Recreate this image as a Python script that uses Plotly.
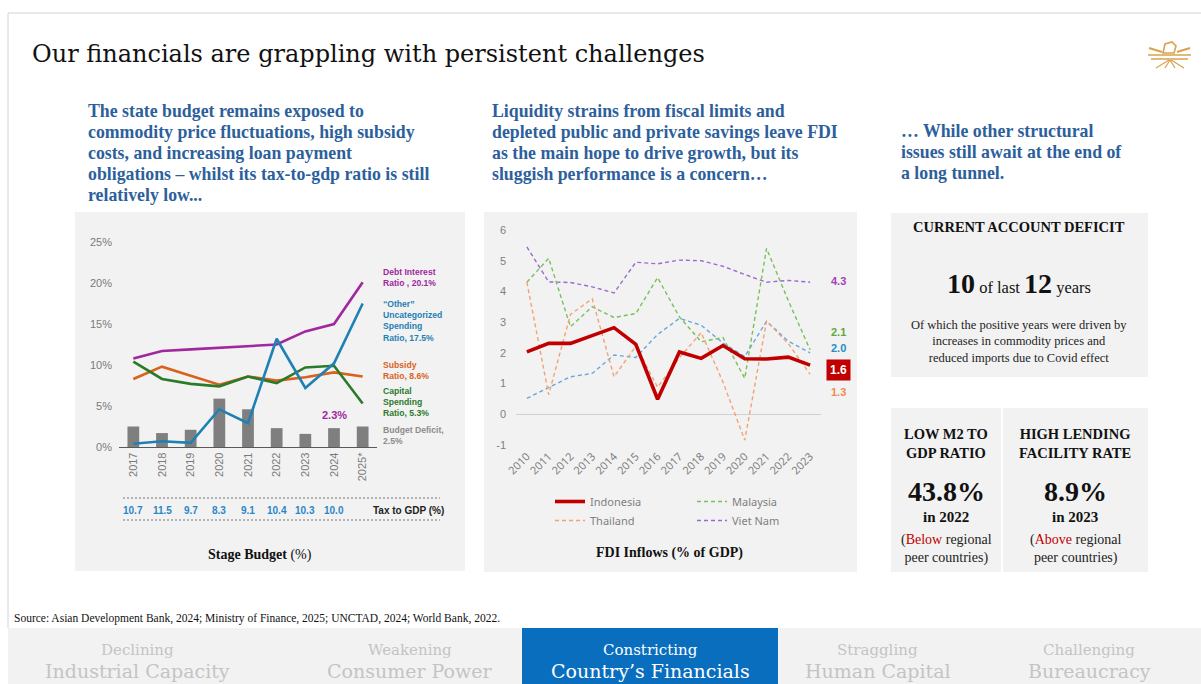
import plotly.graph_objects as go

W, H = 1201, 684

# ---------------- Data ----------------
budget_years = ["2017", "2018", "2019", "2020", "2021", "2022", "2023", "2024", "2025*"]
debt_interest = [10.8, 11.7, 11.9, 12.1, 12.3, 12.5, 14.1, 15.0, 20.1]
other_spending = [0.4, 0.7, 0.5, 4.6, 2.9, 13.2, 7.2, 10.2, 17.5]
subsidy = [8.3, 9.8, 8.7, 7.6, 8.6, 8.1, 8.5, 9.1, 8.6]
capital = [10.4, 8.3, 7.7, 7.4, 8.6, 7.8, 9.7, 9.9, 5.3]
budget_deficit = [2.5, 1.7, 2.1, 5.9, 4.6, 2.3, 1.6, 2.3, 2.5]
tax_years = ["2017", "2018", "2019", "2020", "2021", "2022", "2023", "2024"]
tax_to_gdp = ["10.7", "11.5", "9.7", "8.3", "9.1", "10.4", "10.3", "10.0"]

fdi_years = ["2010", "2011", "2012", "2013", "2014", "2015", "2016",
             "2017", "2018", "2019", "2020", "2021", "2022", "2023"]
indonesia = [2.03, 2.31, 2.31, 2.56, 2.82, 2.28, 0.49, 2.03, 1.82, 2.24, 1.81, 1.80, 1.86, 1.60]
malaysia = [4.30, 5.08, 2.85, 3.50, 3.15, 3.28, 4.45, 3.17, 2.36, 2.50, 1.17, 5.40, 3.70, 2.10]
thailand = [4.30, 0.64, 3.25, 3.76, 1.22, 2.22, 0.88, 1.84, 2.66, 1.05, -0.84, 3.03, 2.30, 1.30]
philippines = [0.52, 0.88, 1.22, 1.33, 1.93, 1.85, 2.60, 3.12, 2.90, 2.32, 1.88, 3.03, 2.38, 2.00]
vietnam = [5.45, 4.31, 4.29, 4.15, 3.95, 4.95, 4.90, 5.02, 5.00, 4.82, 4.55, 4.30, 4.36, 4.30]


def X(px):
    return px / W


def Y(py):
    return 1 - py / H


SERIF = "Liberation Serif"
SLAB = "DejaVu Serif"
SANS = "Liberation Sans"

fig = go.Figure()

# ---------------- Left chart: state budget ----------------
fig.add_trace(go.Bar(x=budget_years, y=budget_deficit, name="Budget Deficit",
                     marker=dict(color="#7f7f7f", line=dict(width=0)),
                     xaxis="x", yaxis="y", showlegend=False))
for name, vals, col in [("Subsidy Ratio", subsidy, "#d9621c"),
                        ("Capital Spending Ratio", capital, "#2a7a2a"),
                        ("Debt Interest Ratio", debt_interest, "#a0279e"),
                        ("Other Uncategorized Spending Ratio", other_spending, "#1f80b4")]:
    fig.add_trace(go.Scatter(x=budget_years, y=vals, name=name, mode="lines",
                             line=dict(color=col, width=2.6),
                             xaxis="x", yaxis="y", showlegend=False))

# ---------------- Middle chart: FDI inflows ----------------
DASH = "4px,3px"
fig.add_trace(go.Scatter(x=fdi_years, y=philippines, name="Philippines", mode="lines",
                         line=dict(color="#6aa6dc", width=1.4, dash=DASH),
                         xaxis="x2", yaxis="y2", showlegend=False))
fig.add_trace(go.Scatter(x=fdi_years, y=vietnam, name="Viet Nam", mode="lines",
                         line=dict(color="#9a6ad0", width=1.4, dash=DASH),
                         xaxis="x2", yaxis="y2", legend="legend2", legendrank=2))
fig.add_trace(go.Scatter(x=fdi_years, y=malaysia, name="Malaysia", mode="lines",
                         line=dict(color="#78c05a", width=1.4, dash=DASH),
                         xaxis="x2", yaxis="y2", legend="legend2", legendrank=1))
fig.add_trace(go.Scatter(x=fdi_years, y=thailand, name="Thailand", mode="lines",
                         line=dict(color="#f4a273", width=1.4, dash=DASH),
                         xaxis="x2", yaxis="y2", legend="legend", legendrank=2))
fig.add_trace(go.Scatter(x=fdi_years, y=indonesia, name="Indonesia", mode="lines",
                         line=dict(color="#c00000", width=3.6),
                         xaxis="x2", yaxis="y2", legend="legend", legendrank=1))

# ---------------- Shapes ----------------
shapes = []


def rect(x0, y0, x1, y1, color):
    shapes.append(dict(type="rect", xref="paper", yref="paper",
                       x0=X(x0), x1=X(x1), y0=Y(y1), y1=Y(y0),
                       fillcolor=color, line=dict(width=0), layer="below"))


def line(x0, y0, x1, y1, color, width=1, dash="solid", layer="above"):
    shapes.append(dict(type="line", xref="paper", yref="paper",
                       x0=X(x0), x1=X(x1), y0=Y(y0), y1=Y(y1),
                       line=dict(color=color, width=width, dash=dash), layer=layer))


rect(75, 212, 465, 571, "#f2f2f2")
rect(484, 212, 857, 572, "#f2f2f2")
rect(891, 213, 1148, 377, "#f2f2f2")
rect(891, 408, 1001, 572, "#f2f2f2")
rect(1003, 408, 1148, 572, "#f2f2f2")
rect(8, 628, 1201, 684, "#f2f2f2")
rect(522, 628, 778, 684, "#0a6ebf")

line(8, 13, 1201, 13, "#d4d4d4")
line(8, 13, 8, 628, "#d4d4d4")

# tax-to-gdp dashed rules
line(123, 498, 440, 498, "#777777", 1, "2px,2px")
line(123, 520, 440, 520, "#777777", 1, "2px,2px")

# logo (stylised golden emblem)
gold = "#d9a24c"
line(1149, 48, 1162, 52, gold, 2)
line(1190, 48, 1177, 52, gold, 2)
line(1148, 55, 1191, 55, gold, 1.6)
line(1151, 59, 1188, 59, gold, 1.4)
line(1169, 60, 1156, 68, gold, 1.2)
line(1170, 60, 1165, 68, gold, 1.2)
line(1170, 60, 1175, 68, gold, 1.2)
line(1171, 60, 1184, 68, gold, 1.2)
shapes.append(dict(type="path", xref="paper", yref="paper",
                   path=f"M {X(1163)},{Y(53)} L {X(1165)},{Y(44)} L {X(1172)},{Y(42)} "
                        f"L {X(1176)},{Y(46)} L {X(1174)},{Y(53)} Z",
                   fillcolor="rgba(0,0,0,0)", line=dict(color=gold, width=1.6)))

# ---------------- Annotations ----------------
ann = []


def text(x, y, s, size, color="#000000", family=SERIF, xanchor="left",
         yanchor="middle", align="left", **kw):
    d = dict(x=X(x), y=Y(y), xref="paper", yref="paper", text=s, showarrow=False,
             xanchor=xanchor, yanchor=yanchor, align=align,
             font=dict(size=size, color=color, family=family))
    d.update(kw)
    ann.append(d)


def lines_block(x, y0, step, rows, size, color, family=SERIF, bold=True):
    for i, r in enumerate(rows):
        s = f"<b>{r}</b>" if bold else r
        text(x, y0 + i * step, s, size, color, family)


# title
text(30, 54, "Our financials are grappling with persistent challenges", 24,
     "#111111", SLAB)

# sub-headings
BLUE = "#2d5f9c"
SUB = 17.8
lines_block(86, 111, 21, ["The state budget remains exposed to",
                          "commodity price fluctuations, high subsidy",
                          "costs, and increasing loan payment",
                          "obligations – whilst its tax-to-gdp ratio is still",
                          "relatively low..."], SUB, BLUE)
lines_block(490, 111, 21, ["Liquidity strains from fiscal limits and",
                           "depleted public and private savings leave FDI",
                           "as the main hope to drive growth, but its",
                           "sluggish performance is a concern…"], SUB, BLUE)
lines_block(899, 131, 21, ["… While other structural",
                           "issues still await at the end of",
                           "a long tunnel."], SUB, BLUE)

# left chart line labels
LS = 8.6
text(381, 277, "<b>Debt Interest<br>Ratio , 20.1%</b>", LS, "#a0279e", SANS)
text(381, 321, "<b>“Other”<br>Uncategorized<br>Spending<br>Ratio, 17.5%</b>", LS, "#1f80b4", SANS)
text(381, 370, "<b>Subsidy<br>Ratio, 8.6%</b>", LS, "#d9621c", SANS)
text(381, 402, "<b>Capital<br>Spending<br>Ratio, 5.3%</b>", LS, "#2a7a2a", SANS)
text(381, 435, "<b>Budget Deficit,<br>2.5%</b>", LS, "#8c8c8c", SANS)

ann.append(dict(x=budget_years.index("2024"), y=3.9, xref="x", yref="y",
                text="<b>2.3%</b>", showarrow=False,
                font=dict(size=11, color="#a0279e", family=SANS), xanchor="center"))

# tax to GDP row
for yr, v in zip(tax_years, tax_to_gdp):
    ann.append(dict(x=budget_years.index(yr), y=Y(510), xref="x", yref="paper",
                    text=f"<b>{v}</b>", showarrow=False, xanchor="center",
                    yanchor="middle", font=dict(size=10, color="#2a86c8", family=SANS)))
text(408, 510, "<b>Tax to GDP (%)</b>", 10, "#222222", SANS, xanchor="center")

text(260, 555, "<b>Stage Budget</b> (%)", 14, "#111111", SERIF, xanchor="center")
text(669, 553, "<b>FDI Inflows (% of GDP)</b>", 14, "#111111", SERIF, xanchor="center")

# middle chart end labels
text(838, 281, "<b>4.3</b>", 11, "#a23fb5", SANS, xanchor="center")
text(838, 332, "<b>2.1</b>", 11, "#62a83a", SANS, xanchor="center")
text(838, 348, "<b>2.0</b>", 11, "#2a8cc4", SANS, xanchor="center")
text(838, 370, "<b>1.6</b>", 12, "#ffffff", SANS, xanchor="center",
     bgcolor="#c00000", borderpad=3)
text(838, 392, "<b>1.3</b>", 11, "#f08a4f", SANS, xanchor="center")

# right panels
text(1019, 227, "<b>CURRENT ACCOUNT DEFICIT</b>", 14.5, "#111111", SERIF, xanchor="center")
text(1019, 283, "<b><span style='font-size:28px'>10</span></b> of last "
                "<b><span style='font-size:28px'>12</span></b> years", 16.5,
     "#111111", SERIF, xanchor="center")
text(1019, 341, "Of which the positive years were driven by<br>"
                "increases in commodity prices and<br>"
                "reduced imports due to Covid effect", 12.5, "#222222", SERIF,
     xanchor="center", align="center")

text(946, 443, "<b>LOW M2 TO<br>GDP RATIO</b>", 14.5, "#111111", SERIF,
     xanchor="center", align="center")
text(1075, 443, "<b>HIGH LENDING<br>FACILITY RATE</b>", 14.5, "#111111", SERIF,
     xanchor="center", align="center")
text(946, 491, "<b>43.8%</b>", 28, "#111111", SERIF, xanchor="center")
text(1075, 491, "<b>8.9%</b>", 28, "#111111", SERIF, xanchor="center")
text(946, 517, "<b>in 2022</b>", 15, "#111111", SERIF, xanchor="center")
text(1075, 517, "<b>in 2023</b>", 15, "#111111", SERIF, xanchor="center")
text(946, 549, "(<span style='color:#c00000'>Below</span> regional<br>peer countries)",
     14, "#222222", SERIF, xanchor="center", align="center")
text(1075, 549, "(<span style='color:#c00000'>Above</span> regional<br>peer countries)",
     14, "#222222", SERIF, xanchor="center", align="center")

# source
text(12, 618, "Source: Asian Development Bank, 2024; Ministry of Finance, 2025; "
              "UNCTAD, 2024; World Bank, 2022.", 11.5, "#111111", SERIF)

# tabs
tabs = [(137, "Declining", "Industrial Capacity", False),
        (410, "Weakening", "Consumer Power", False),
        (650, "Constricting", "Country’s Financials", True),
        (878, "Straggling", "Human Capital", False),
        (1089, "Challenging", "Bureaucracy", False)]
for cx, small, big, active in tabs:
    col = "#ffffff" if active else "#c4c4c4"
    text(cx, 650, small, 15, col, SLAB, xanchor="center")
    text(cx, 671, big, 19, col, SLAB, xanchor="center")

# ---------------- Layout ----------------
GRAY = "#7a7a7a"
fig.update_layout(
    width=W, height=H, margin=dict(l=0, r=0, t=0, b=0, autoexpand=False),
    paper_bgcolor="#ffffff", plot_bgcolor="rgba(0,0,0,0)",
    barmode="overlay", bargap=0.59,
    shapes=shapes, annotations=ann,
    xaxis=dict(domain=[X(119), X(377)], anchor="y", type="category",
               categoryorder="array", categoryarray=budget_years,
               range=[-0.5, len(budget_years) - 0.5], automargin=False,
               tickangle=-90, tickfont=dict(size=11, color=GRAY, family=SANS),
               showgrid=False, showline=True, linecolor="#595959", linewidth=1.2,
               ticks="", fixedrange=True),
    yaxis=dict(domain=[Y(447), Y(242)], anchor="x", range=[0, 25], dtick=5,
               ticksuffix="%", showgrid=False, zeroline=False, showline=False,
               automargin=False,
               tickfont=dict(size=11, color=GRAY, family=SANS),
               ticklabelstandoff=6),
    xaxis2=dict(domain=[X(516), X(821)], anchor="y2", type="category",
                categoryorder="array", categoryarray=fdi_years,
                range=[-0.5, len(fdi_years) - 0.5], automargin=False,
                tickangle=-45, tickfont=dict(size=11, color="#7f7f7f", family="Noto Sans"),
                showgrid=False, showline=False, ticks="", ticklabelstandoff=2),
    yaxis2=dict(domain=[Y(445), Y(230)], anchor="x2", range=[-1, 6],
                tickvals=[-1, 0, 1, 2, 3, 4, 5, 6],
                ticktext=["-1", "0", "1", "2", "3", "4", "5", "6"],
                automargin=False,
                showgrid=False, zeroline=True, zerolinecolor="#d0d0d0", zerolinewidth=1,
                showline=False, tickfont=dict(size=11, color="#7f7f7f", family=SANS),
                ticklabelstandoff=9),
    legend=dict(x=X(550), y=Y(487), xanchor="left", yanchor="top",
                bgcolor="rgba(0,0,0,0)", tracegroupgap=0,
                font=dict(size=11, color="#7f7f7f", family="Noto Sans")),
    legend2=dict(x=X(692), y=Y(487), xanchor="left", yanchor="top",
                 bgcolor="rgba(0,0,0,0)", tracegroupgap=0,
                 font=dict(size=11, color="#7f7f7f", family="Noto Sans")),
)

fig.write_html("out.html", config={"displayModeBar": False},
               post_script="document.body.style.margin='0';"
                           "document.body.style.overflow='hidden';")
